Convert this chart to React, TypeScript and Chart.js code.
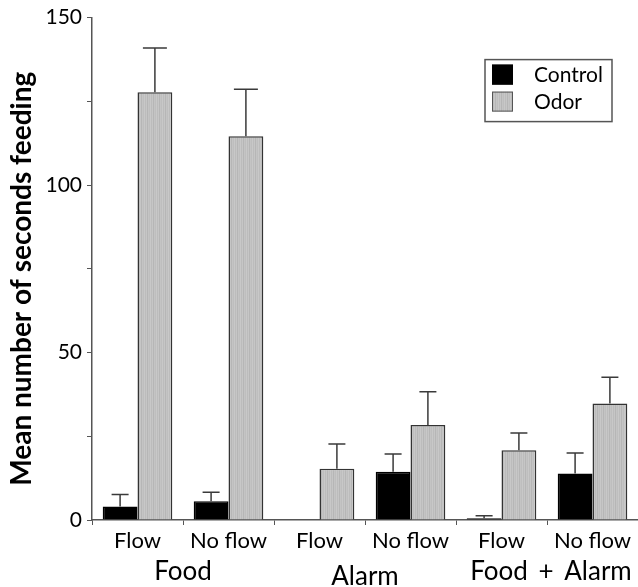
import React, { useEffect, useRef } from "react";
import { Chart, registerables } from "chart.js";

Chart.register(...registerables);

const conditions = ["Flow", "No flow", "Flow", "No flow", "Flow", "No flow"];
const groups = ["Food", "Alarm", "Food + Alarm"];
const groupDrop = [0, 5, 0];
const controlMeans = [4.0, 5.6, 0, 14.4, 0.5, 13.9];
const controlSE = [3.6, 2.7, 0, 5.3, 0.8, 6.1];
const odorMeans = [127.7, 114.6, 15.3, 28.4, 20.8, 34.8];
const odorSE = [13.2, 14.0, 7.4, 9.9, 5.2, 7.8];
const seriesNames = ["Control", "Odor"];
const yTicks = [0, 50, 100, 150];
const yTitle = "Mean number of seconds feeding";

const FONT = "Lato";

function makePattern(): CanvasPattern | string {
  const c = document.createElement("canvas");
  c.width = 6;
  c.height = 4;
  const ctx = c.getContext("2d");
  if (!ctx) return "#c0c0c0";
  const cols = ["#c8c8c8", "#bcbcbc", "#c6c6c6", "#b6b6b6", "#c4c4c4", "#bebebe"];
  cols.forEach((col, i) => {
    ctx.fillStyle = col;
    ctx.fillRect(i, 0, 1, 4);
  });
  return ctx.createPattern(c, "repeat") || "#c0c0c0";
}

export default function App() {
  const ref = useRef<HTMLCanvasElement | null>(null);

  useEffect(() => {
    document.body.style.margin = "0";
    const canvas = ref.current;
    if (!canvas) return;
    const pattern = makePattern();
    const errs = [controlSE, odorSE];

    const errorBars = {
      id: "errorBars",
      afterDatasetsDraw(chart: any) {
        const { ctx } = chart;
        const y = chart.scales.y;
        ctx.save();
        ctx.strokeStyle = "#3a3a3a";
        ctx.lineWidth = 1.5;
        chart.data.datasets.forEach((ds: any, di: number) => {
          const meta = chart.getDatasetMeta(di);
          meta.data.forEach((el: any, i: number) => {
            const v = ds.data[i];
            const e = errs[di][i];
            if (!v || !e) return;
            const top = y.getPixelForValue(v + e);
            const x = el.x;
            const half = di === 1 && v > 100 ? 12 : 8.5;
            ctx.beginPath();
            ctx.moveTo(x, el.y);
            ctx.lineTo(x, top);
            ctx.moveTo(x - half, top);
            ctx.lineTo(x + half, top);
            ctx.stroke();
          });
        });
        ctx.restore();
      },
    };

    const extras = {
      id: "extras",
      afterDraw(chart: any) {
        const { ctx } = chart;
        const xs = chart.scales.x;
        const area = chart.chartArea;
        ctx.save();
        // y title
        ctx.save();
        ctx.translate(22, (area.top + area.bottom) / 2 + 10);
        ctx.rotate(-Math.PI / 2);
        ctx.fillStyle = "#000";
        ctx.font = `bold 28px ${FONT}`;
        ctx.textAlign = "center";
        ctx.textBaseline = "middle";
        ctx.fillText(yTitle, 0, 0);
        ctx.restore();
        // group labels
        ctx.fillStyle = "#000";
        ctx.font = `26px ${FONT}`;
        ctx.textAlign = "center";
        ctx.textBaseline = "middle";
        groups.forEach((g, gi) => {
          const x = (xs.getPixelForValue(gi * 2) + xs.getPixelForValue(gi * 2 + 1)) / 2;
          const wide = g.includes("+");
          (ctx as any).wordSpacing = wide ? "4px" : "0px";
          ctx.fillText(g, x + (wide ? 4 : 0), area.bottom + 52 + groupDrop[gi]);
        });
        (ctx as any).wordSpacing = "0px";
        // legend
        const lx = area.right - 153;
        const ly = area.top + 42;
        ctx.fillStyle = "#fff";
        ctx.fillRect(lx, ly, 127, 62);
        ctx.strokeStyle = "#555";
        ctx.lineWidth = 1.5;
        ctx.strokeRect(lx, ly, 127, 62);
        const fills = ["#000", pattern];
        seriesNames.forEach((n, i) => {
          const sy = ly + 5 + i * 27;
          ctx.fillStyle = fills[i] as any;
          ctx.fillRect(lx + 7, sy, 21, 20);
          ctx.strokeStyle = i === 0 ? "#000" : "#555";
          ctx.lineWidth = 1;
          ctx.strokeRect(lx + 7.5, sy + 0.5, 20, 19);
          ctx.fillStyle = "#000";
          ctx.font = `21px ${FONT}`;
          ctx.textAlign = "left";
          ctx.textBaseline = "middle";
          ctx.fillText(n, lx + 49, sy + 11);
        });
        ctx.restore();
      },
    };

    const chart = new Chart(canvas, {
      type: "bar",
      data: {
        labels: conditions,
        datasets: [
          {
            label: seriesNames[0],
            data: controlMeans,
            backgroundColor: "#000",
            borderColor: "#000",
            borderWidth: 1.5,
            categoryPercentage: 0.765,
            barPercentage: 1.0,
          },
          {
            label: seriesNames[1],
            data: odorMeans,
            backgroundColor: pattern as any,
            borderColor: "#333",
            borderWidth: 1.5,
            categoryPercentage: 0.765,
            barPercentage: 1.0,
          },
        ],
      },
      options: {
        responsive: false,
        animation: false,
        layout: { padding: { top: 17, left: 0, right: 0, bottom: 0 } },
        plugins: {
          legend: { display: false },
          tooltip: { enabled: false },
        },
        scales: {
          x: {
            offset: true,
            grid: {
              display: true,
              drawOnChartArea: false,
              drawTicks: true,
              tickLength: 5,
              color: "#555",
              offset: true,
            },
            border: { display: true, color: "#555", width: 1.5 },
            ticks: {
              color: "#000",
              font: { family: FONT, size: 22 },
              padding: 3,
              maxRotation: 0,
              autoSkip: false,
            },
            afterFit(s: any) {
              s.height = 67;
            },
          },
          y: {
            min: 0,
            max: 150,
            afterBuildTicks(s: any) {
              const t: any[] = [];
              for (let v = 0; v <= 150; v += 25) t.push({ value: v });
              s.ticks = t;
            },
            ticks: {
              color: "#000",
              font: { family: FONT, size: 21 },
              padding: 5,
              callback: (v: any) => (yTicks.includes(Number(v)) ? String(v) : ""),
            },
            grid: {
              drawOnChartArea: false,
              drawTicks: true,
              tickLength: 5,
              color: "#555",
            },
            border: { display: true, color: "#555", width: 1.5 },
            title: { display: false },
            afterFit(s: any) {
              s.width = 92;
            },
          },
        },
      },
      plugins: [errorBars, extras],
    });
    return () => chart.destroy();
  }, []);

  return (
    <div style={{ position: "absolute", left: 0, top: 0, width: 638, height: 587 }}>
      <canvas ref={ref} width={638} height={587} style={{ width: 638, height: 587 }} />
    </div>
  );
}
